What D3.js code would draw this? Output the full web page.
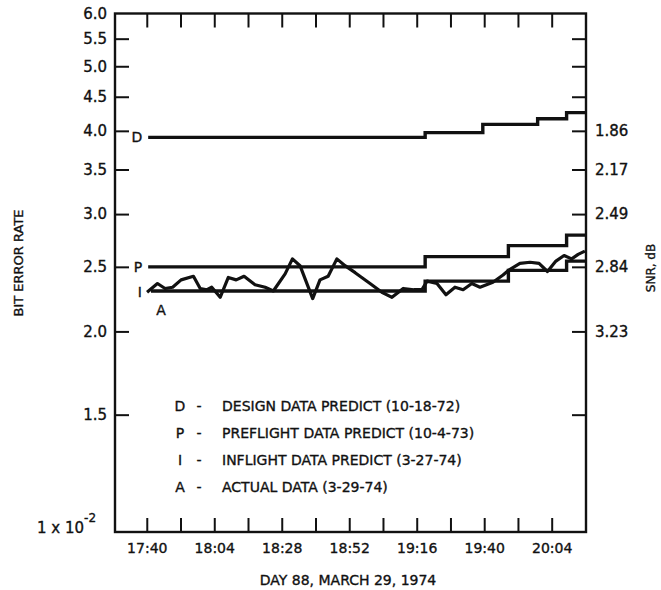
<!DOCTYPE html>
<html>
<head>
<meta charset="utf-8">
<script src="https://cdn.jsdelivr.net/npm/d3@7"></script>
<style>
  html, body { margin: 0; padding: 0; background: #fff; }
  svg { display: block; }
  text { font-family: "DejaVu Sans", sans-serif; fill: #111; stroke: #111; stroke-width: 0.35px; }
</style>
</head>
<body>
<svg id="chart" width="661" height="590"></svg>
<script>
// ---------- DATA ----------
// time in minutes after 17:40 (day 88, March 29, 1974); BER in units of 1e-2
const xDomainMin = [-11.3, 156.2];
const timeTickMin = [0, 12, 24, 36, 48, 60, 72, 84, 96, 108, 120, 132, 144];
const timeTickLabels = ["17:40", "", "18:04", "", "18:28", "", "18:52", "", "19:16", "", "19:40", "", "20:04"];

const berTicks = [1, 1.5, 2, 2.5, 3, 3.5, 4, 4.5, 5, 5.5, 6];
const berTickLabels = ["1", "1.5", "2.0", "2.5", "3.0", "3.5", "4.0", "4.5", "5.0", "5.5", "6.0"];
const snrTickBer = [1.5, 2, 2.5, 3, 3.5, 4, 4.5, 5, 5.5];
const snrLabelBer = [4.0, 3.5, 3.0, 2.5, 2.0];
const snrLabels = ["1.86", "2.17", "2.49", "2.84", "3.23"];

// Design data predict (step function)
const designMin = [0.5, 99, 119.5, 139, 149.3];
const designBer = [3.91, 3.975, 4.09, 4.17, 4.26];
// Preflight data predict
const preflightMin = [0.5, 99, 128.6, 149.3];
const preflightBer = [2.50, 2.59, 2.69, 2.79];
// Inflight data predict
const inflightMin = [1.5, 99, 128.6, 149.3];
const inflightBer = [2.30, 2.38, 2.47, 2.55];
// Actual data
const actualMin = [0.1, 3.8, 6.5, 9.2, 12.2, 16.6, 19.0, 21.4, 23.1, 26.1, 29.0, 31.8, 34.6, 38.5, 42.1, 45.0,
  49.2, 51.8, 54.5, 59.0, 61.6, 64.5, 67.6, 70.5, 74.1, 79.4, 83.6, 87.2, 91.2, 95.0, 97.8, 99.7, 103.2,
  106.4, 109.6, 112.5, 115.6, 118.5, 123.1, 126.7, 128.6, 132.7, 136.3, 139.5, 142.5, 145.5, 148.4, 151.1,
  153.4, 155.8];
const actualBer = [2.29, 2.36, 2.32, 2.33, 2.39, 2.42, 2.32, 2.31, 2.33, 2.25, 2.41, 2.39, 2.42, 2.35, 2.33, 2.30,
  2.44, 2.57, 2.51, 2.24, 2.39, 2.42, 2.57, 2.51, 2.45, 2.36, 2.29, 2.25, 2.32, 2.31, 2.31, 2.38, 2.36,
  2.27, 2.33, 2.31, 2.36, 2.33, 2.37, 2.43, 2.47, 2.53, 2.54, 2.53, 2.46, 2.55, 2.60, 2.57,
  2.61, 2.64];

const legendKeys = ["D", "P", "I", "A"];
const legendTexts = ["DESIGN DATA PREDICT (10-18-72)", "PREFLIGHT DATA PREDICT (10-4-73)",
  "INFLIGHT DATA PREDICT (3-27-74)", "ACTUAL DATA (3-29-74)"];

// ---------- CHART ----------
const svg = d3.select("#chart");
const L = 115, R = 586, T = 13.5, B = 532;
const x = d3.scaleLinear().domain(xDomainMin).range([L, R]);
const y = d3.scaleLog().domain([1, 6]).range([B, T]);

// frame
svg.append("rect").attr("x", L).attr("y", T).attr("width", R - L).attr("height", B - T)
  .attr("fill", "none").attr("stroke", "#111").attr("stroke-width", 2.4);

const tickLen = 14;
function styleAxis(g) {
  g.select(".domain").remove();
  g.selectAll(".tick line").attr("stroke", "#111").attr("stroke-width", 2);
}

// bottom axis
svg.append("g").attr("transform", `translate(0,${B})`)
  .call(d3.axisBottom(x).tickValues(timeTickMin).tickSize(-tickLen).tickPadding(11)
    .tickFormat((d, i) => timeTickLabels[i]))
  .call(styleAxis)
  .call(g => g.selectAll("text").attr("font-size", 14).attr("fill", "#111").attr("font-family", null));
// top axis (ticks only)
svg.append("g").attr("transform", `translate(0,${T})`)
  .call(d3.axisTop(x).tickValues(timeTickMin).tickSize(-tickLen).tickFormat(""))
  .call(styleAxis);

// left axis
svg.append("g").attr("transform", `translate(${L},0)`)
  .call(d3.axisLeft(y).tickValues(berTicks.filter(v => v > 1 && v < 6)).tickSize(-tickLen).tickFormat(""))
  .call(styleAxis);
// left labels
svg.append("g").selectAll("text.ylab")
  .data(berTicks.map((v, i) => ({ v, t: berTickLabels[i] })).filter(d => d.v > 1))
  .join("text")
  .attr("x", 107).attr("y", d => y(d.v)).attr("dy", "0.36em")
  .attr("text-anchor", "end").attr("font-size", 15).text(d => d.t);
// 1 x 10^-2 label
const one = svg.append("text").attr("x", 37).attr("y", y(1) + 1).attr("font-size", 15);
one.append("tspan").text("1 x 10");
one.append("tspan").attr("dy", -11).attr("font-size", 12).text("-2");

// right axis
svg.append("g").attr("transform", `translate(${R},0)`)
  .call(d3.axisRight(y).tickValues(snrTickBer).tickSize(-tickLen).tickFormat(""))
  .call(styleAxis);
svg.append("g").selectAll("text.snr")
  .data(snrLabelBer.map((v, i) => ({ v, t: snrLabels[i] })))
  .join("text")
  .attr("x", 595).attr("y", d => y(d.v)).attr("dy", "0.36em")
  .attr("font-size", 15).text(d => d.t);

// axis titles
svg.append("text").attr("transform", `translate(23,${263}) rotate(-90)`)
  .attr("text-anchor", "middle").attr("font-size", 13).text("BIT ERROR RATE");
svg.append("text").attr("transform", `translate(655,${268}) rotate(-90)`)
  .attr("text-anchor", "middle").attr("font-size", 12).text("SNR, dB");
svg.append("text").attr("x", 348).attr("y", 585)
  .attr("text-anchor", "middle").attr("font-size", 14).text("DAY 88, MARCH 29, 1974");

// step series
const stepLine = d3.line().x(d => x(d[0])).y(d => y(d[1])).curve(d3.curveStepAfter);
function stepData(ts, vs) {
  const pts = ts.map((t, i) => [t, vs[i]]);
  pts.push([xDomainMin[1], vs[vs.length - 1]]);
  return pts;
}
[[designMin, designBer], [preflightMin, preflightBer], [inflightMin, inflightBer]].forEach(([ts, vs]) => {
  svg.append("path").datum(stepData(ts, vs)).attr("d", stepLine)
    .attr("fill", "none").attr("stroke", "#111").attr("stroke-width", 3.4);
});
// actual data
svg.append("path").datum(actualMin.map((t, i) => [t, actualBer[i]]))
  .attr("d", d3.line().x(d => x(d[0])).y(d => y(d[1])))
  .attr("fill", "none").attr("stroke", "#111").attr("stroke-width", 3.2).attr("stroke-linejoin", "round");

// series letters
svg.append("text").attr("x", x(designMin[0]) - 6).attr("y", y(designBer[0])).attr("dy", "0.36em")
  .attr("text-anchor", "end").attr("font-size", 14).text("D");
svg.append("text").attr("x", x(preflightMin[0]) - 6).attr("y", y(preflightBer[0])).attr("dy", "0.36em")
  .attr("text-anchor", "end").attr("font-size", 14).text("P");
svg.append("text").attr("x", x(inflightMin[0]) - 9).attr("y", y(inflightBer[0])).attr("dy", "0.4em")
  .attr("text-anchor", "end").attr("font-size", 14).text("I");
svg.append("text").attr("x", x(actualMin[0]) + 14).attr("y", y(actualBer[0]) + 18).attr("dy", "0.36em")
  .attr("text-anchor", "middle").attr("font-size", 14).text("A");

// legend
const lg = svg.append("g");
legendKeys.forEach((k, i) => {
  const yy = 411 + i * 27;
  lg.append("text").attr("x", 180).attr("y", yy).attr("text-anchor", "middle").attr("font-size", 14).text(k);
  lg.append("text").attr("x", 199).attr("y", yy).attr("text-anchor", "middle").attr("font-size", 14).text("-");
  lg.append("text").attr("x", 222).attr("y", yy).attr("font-size", 14).text(legendTexts[i]);
});
</script>
</body>
</html>
